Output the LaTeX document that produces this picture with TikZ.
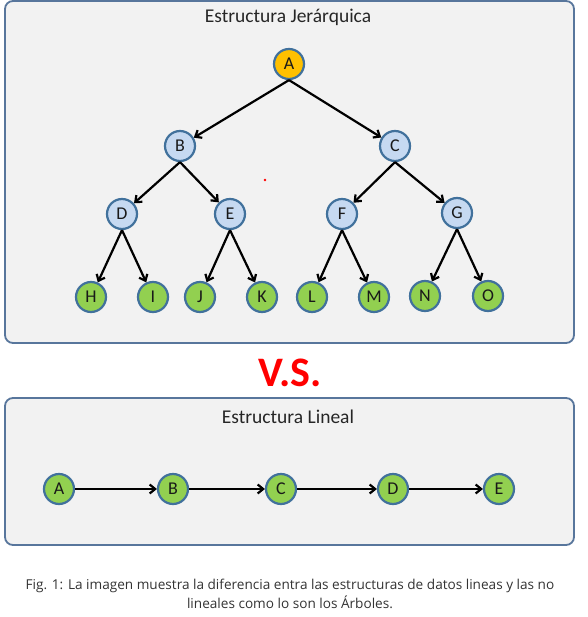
\documentclass[tikz,border=0pt]{standalone}
\usepackage{fontspec}
\setmainfont{Carlito}
\newfontfamily\capfont{Open Sans}
\usetikzlibrary{positioning, arrows.meta}
\definecolor{framegray}{RGB}{242,242,242}
\definecolor{frameblue}{RGB}{88,118,156}
\definecolor{ringblue}{RGB}{65,113,156}
\definecolor{rootgold}{RGB}{255,192,0}
\definecolor{innerblue}{RGB}{198,217,241}
\definecolor{leafgreen}{RGB}{146,208,80}
\definecolor{captext}{RGB}{51,51,51}

\begin{document}
\begin{tikzpicture}[x=1pt, y=-1pt, >={Straight Barb[length=5.5pt,width=9pt]},
       frame/.style={draw=frameblue, fill=framegray, line width=1.8pt, rounded corners=8pt},
       nd/.style={circle, draw=ringblue, line width=2.2pt, minimum size=30pt, inner sep=0pt,
                  font=\fontsize{18}{18}\selectfont, text=black!90},
       root/.style={nd, fill=rootgold},
       inner/.style={nd, fill=innerblue},
       leaf/.style={nd, fill=leafgreen},
       edge/.style={->, line width=2.2pt},
       ttl/.style={font=\fontsize{19.5}{22}\selectfont, text=black!85}]
     \useasboundingbox (0,0) rectangle (587,617);
     % two frames
     \draw[frame] (5,1) rectangle (574,343);
     \draw[frame] (5,398) rectangle (574,545);
     \node[ttl] (ttltree) at (288,17) {Estructura Jerárquica};
     \node[ttl] (ttllin) at (288,417) {Estructura Lineal};
     \node[text=red, font=\fontsize{42}{42}\selectfont\bfseries] (vs) at (290,373) {V.S.};
     % tree
     \node[root] (a) at (289,64) {A};
     \node[inner] (b) at (180,146) {B};
     \node[inner] (c) at (395,146) {C};
     \node[inner] (d) at (122,214) {D};
     \node[inner] (e) at (230,214) {E};
     \node[inner] (f) at (342,214) {F};
     \node[inner] (g) at (457,213) {G};
     \node[leaf] (h) at (91,297) {H};
     \node[leaf] (i) at (153,297) {I};
     \node[leaf] (j) at (200,297) {J};
     \node[leaf] (k) at (262,297) {K};
     \node[leaf] (l) at (312,297) {L};
     \node[leaf] (m) at (374,297) {M};
     \node[leaf] (n) at (425,296) {N};
     \node[leaf] (o) at (488,296) {O};
     \foreach \p/\cl/\cr in {a/b/c, b/d/e, c/f/g, d/h/i, e/j/k, f/l/m, g/n/o} {
       \draw[edge] (\p.south) -- (\cl);
       \draw[edge] (\p.south) -- (\cr);
     }
     \fill[red] (265,180) circle (1.3pt);
     % line
     \node[leaf] (la) at (59,489) {A};
     \node[leaf] (lb) at (173,489) {B};
     \node[leaf] (lc) at (281,489) {C};
     \node[leaf] (ld) at (393,489) {D};
     \node[leaf] (le) at (499,489) {E};
     \foreach \u/\v in {la/lb, lb/lc, lc/ld, ld/le}
       \draw[edge] (\u) -- (\v);
     % caption
     \node[font=\capfont\fontsize{13.6}{19}\selectfont, text=captext, align=center] (cap) at (290,594)
        {Fig. 1: La imagen muestra la diferencia entra las estructuras de datos lineas y las no\\
         lineales como lo son los Árboles.};
\end{tikzpicture}
\end{document}
